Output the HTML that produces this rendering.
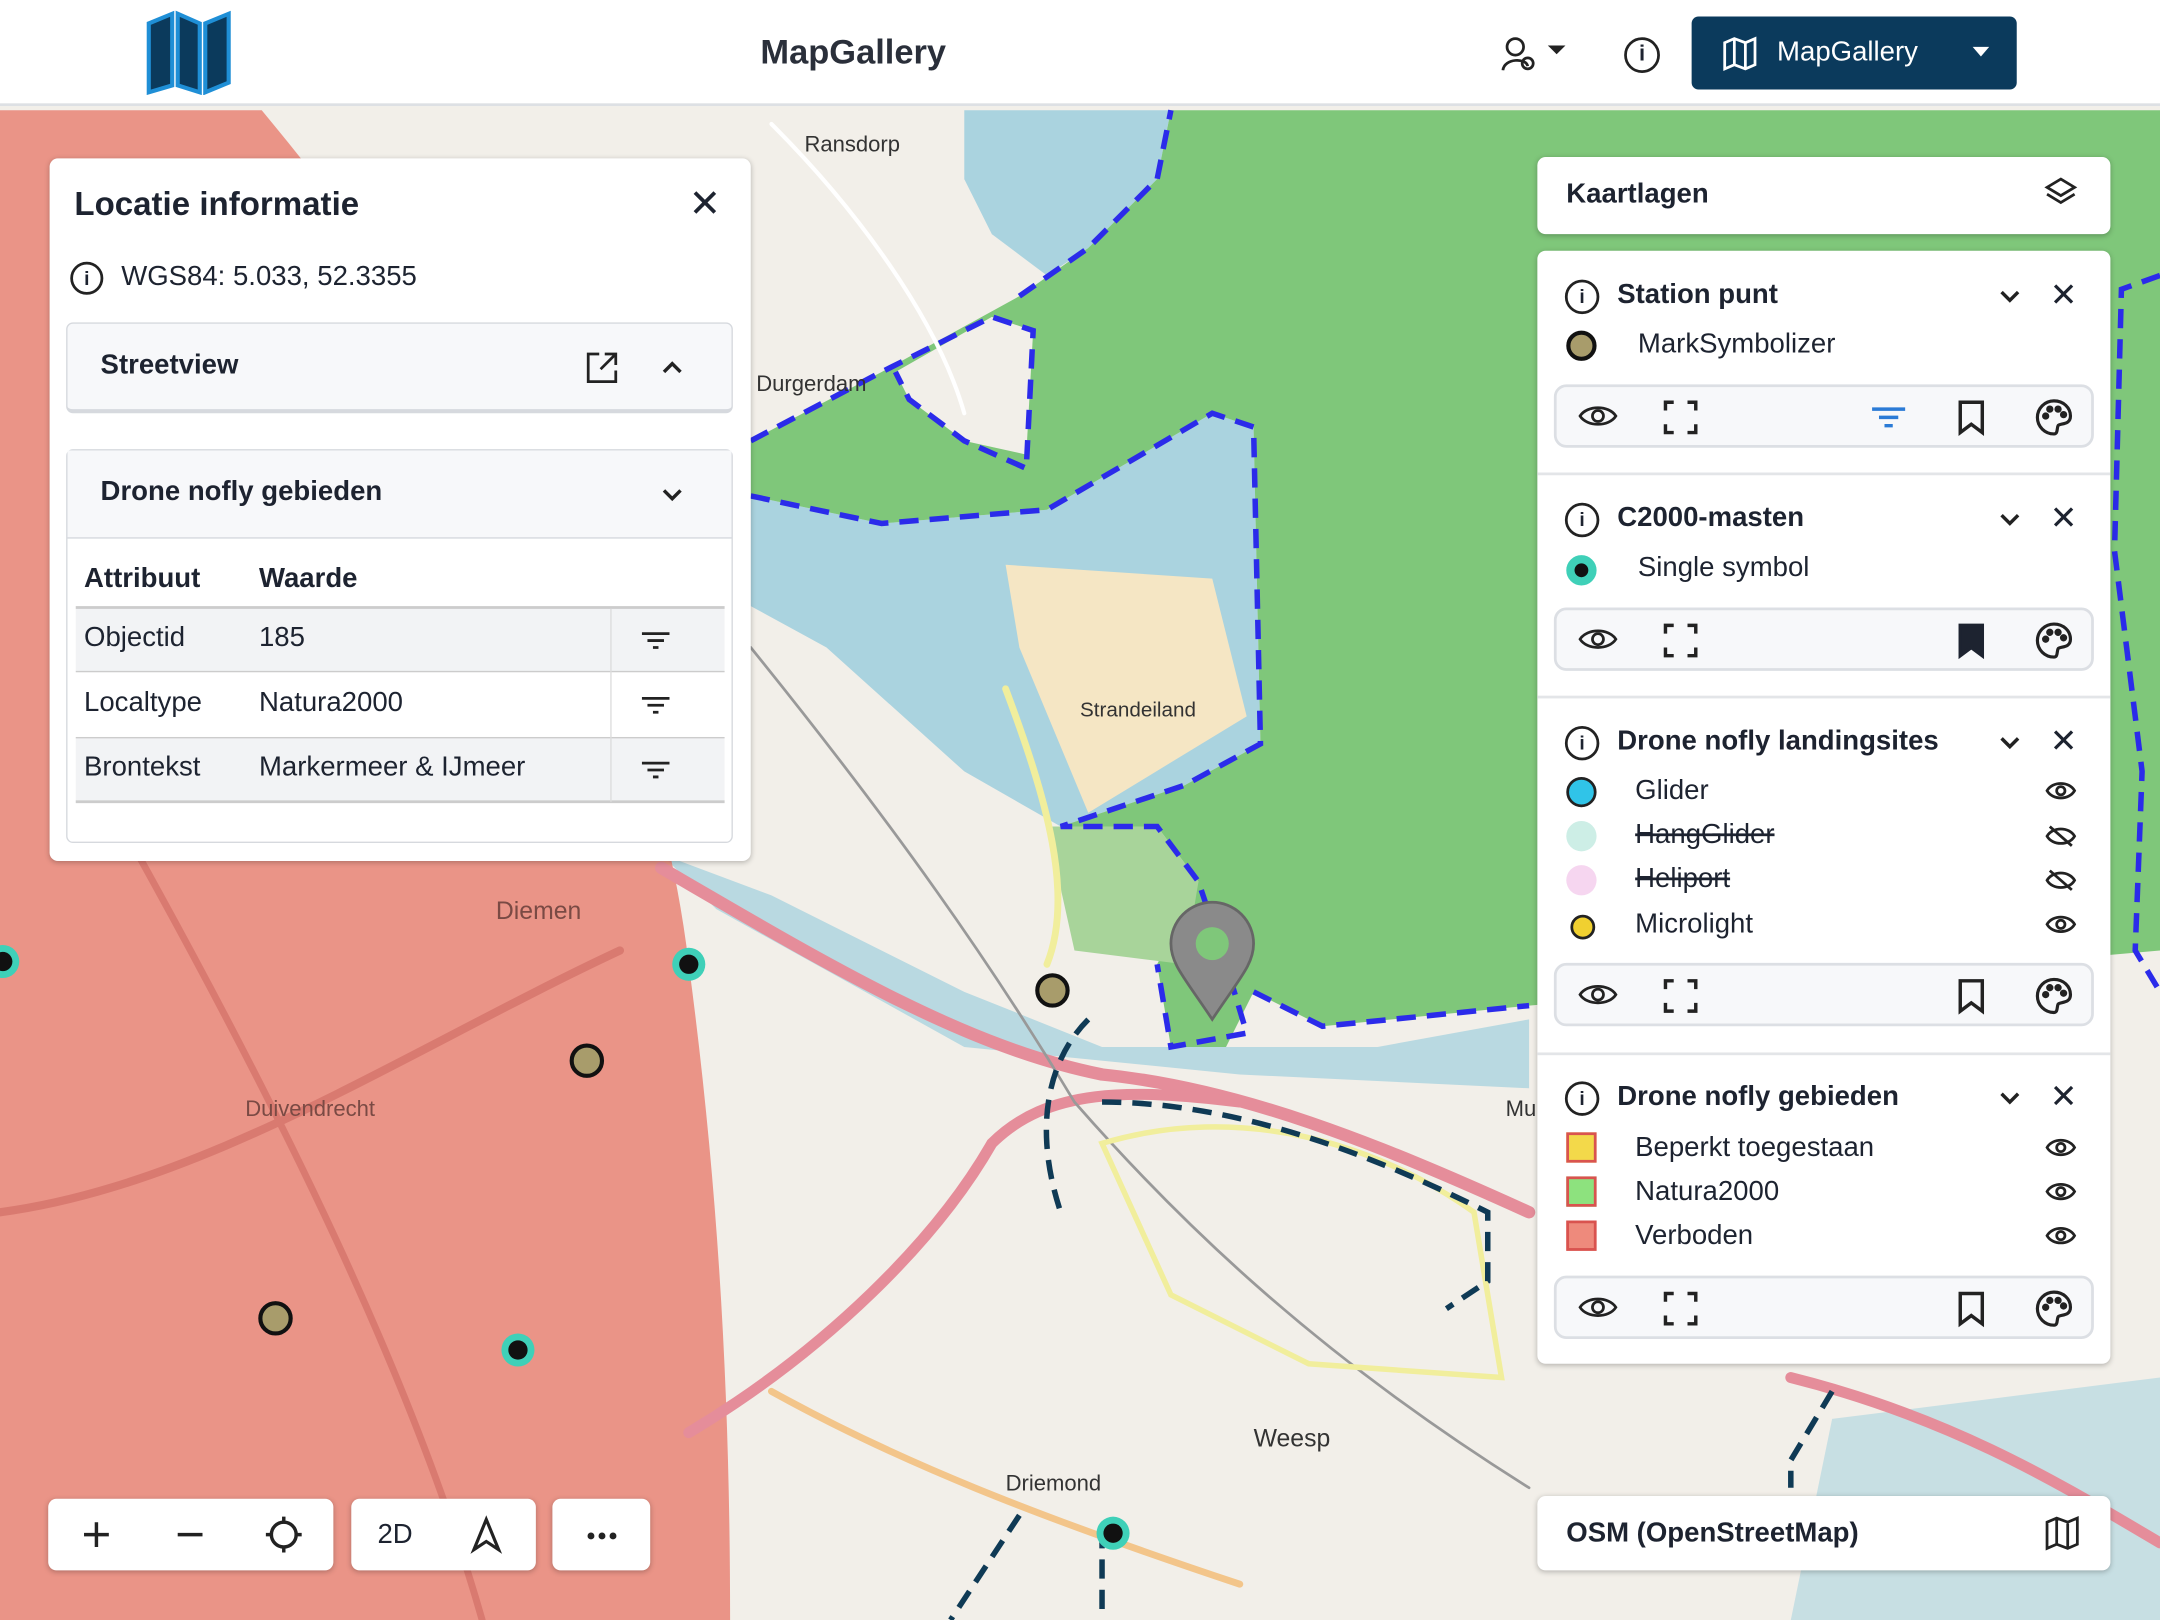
<!DOCTYPE html>
<html><head><meta charset="utf-8"><style>
*{box-sizing:border-box;margin:0;padding:0}
body{width:2160px;height:1620px;overflow:hidden;background:#f2efe9;font-family:"Liberation Sans",sans-serif;color:#1d2330}
#s{position:absolute;left:0;top:0;width:1568px;height:1176px;transform:scale(1.377551);transform-origin:0 0;overflow:hidden}
.abs{position:absolute}
.panel{position:absolute;background:#fff;border-radius:6px;box-shadow:0 1px 4px rgba(0,0,0,.25)}
.t{position:absolute;white-space:nowrap}
.b{font-weight:bold}
.bar{position:absolute;left:12px;right:12px;height:46px;background:#f7f8fa;border:2px solid #dcdfe4;border-radius:9px}
.sw{position:absolute;width:22px;height:22px;border-radius:50%}
.sq{position:absolute;width:22px;height:22px;border:2px solid #d9534f}
svg.i{position:absolute;overflow:visible}
.inf{position:absolute;width:25px;height:25px;border:2px solid #222;border-radius:50%;text-align:center;font-size:14px;line-height:21px;font-weight:bold}
</style></head><body><div id="s">
<svg class="abs" style="left:0;top:0" width="1568" height="1176" viewBox="0 0 1568 1176">
<rect width="1568" height="1176" fill="#f2efe9"/>
<path d="M700 80 L850 80 L840 130 L790 180 L760 200 L720 170 L700 130 Z" fill="#aad3df"/>
<path d="M545 360 L640 380 L760 370 L880 300 L910 310 L915 540 L860 570 L770 600 L700 560 L600 470 L545 440 Z" fill="#aad3df"/>
<path d="M480 620 L560 650 L700 720 L800 760 L1000 760 L1110 740 L1110 790 L900 780 L700 760 L520 660 Z" fill="#aad3df" opacity=".8"/>
<path d="M1330 1030 L1568 1000 L1568 1176 L1300 1176 Z" fill="#aad3df" opacity=".6"/>
<path d="M730 410 L880 420 L905 520 L790 590 L740 470 Z" fill="#f5e6c4"/>
<path d="M545 320 L640 270 L740 215 L790 180 L840 130 L850 80 L1568 80 L1568 690 L1110 730 L960 745 L910 720 L890 760 L850 760 L840 700 L870 640 L840 600 L770 600 L860 570 L915 540 L910 310 L880 300 L760 370 L640 380 L545 360 Z" fill="#7fc77a"/>
<path d="M720 230 L750 240 L745 330 L700 320 L660 290 L650 270 Z" fill="#f2efe9"/>
<path d="M760 600 L840 600 L870 640 L860 700 L780 690 Z" fill="#a8d49a"/>
<path d="M0 80 L190 80 C330 250 470 450 500 700 C520 850 530 1000 530 1176 L0 1176 Z" fill="#e98a7c" opacity=".9"/>
<g fill="none" stroke-linecap="round">
<path d="M480 630 C600 700 700 760 800 780 C900 790 1000 830 1110 880" stroke="#e58d9a" stroke-width="9"/>
<path d="M500 1040 C600 980 680 900 720 830 C760 790 820 790 900 800" stroke="#e58d9a" stroke-width="8"/>
<path d="M1300 1000 C1420 1030 1500 1080 1568 1120" stroke="#e58d9a" stroke-width="8"/>
<path d="M545 470 C650 600 720 700 780 800 C850 880 950 980 1110 1080" stroke="#999" stroke-width="2"/>
<path d="M560 1010 C650 1060 750 1100 900 1150" stroke="#f3c58a" stroke-width="5"/>
<path d="M0 880 C150 860 300 760 450 690" stroke="#d97a70" stroke-width="6"/>
<path d="M100 620 C200 800 300 1000 350 1176" stroke="#d97a70" stroke-width="5"/>
<path d="M730 500 C760 580 780 650 760 700" stroke="#f1ee9c" stroke-width="5"/>
<path d="M800 830 C900 800 1000 830 1070 880 L1090 1000 L950 990 L850 940 Z" stroke="#f1ee9c" stroke-width="4"/>
<path d="M560 90 C620 150 680 230 700 300" stroke="#fff" stroke-width="3"/>
</g>
<g fill="none" stroke="#2b2bea" stroke-width="4" stroke-dasharray="14 8">
<path d="M545 320 L640 270 L720 230 L750 240 L745 340 L700 320 L660 290 L650 270 M740 215 L790 180 L840 130 L850 80"/>
<path d="M545 360 L640 380 L760 370 L880 300 L910 310 L915 540 L860 570 L770 600 L840 600 L870 640 L890 700 L905 750 L850 760 L840 700 M910 720 L960 745 L1110 730"/>
<path d="M1568 200 L1540 210 L1535 400 L1555 560 L1550 690 L1568 720"/>
</g>
<g fill="none" stroke="#0f3a55" stroke-width="4" stroke-dasharray="14 8">
<path d="M790 740 C760 770 750 820 770 880 M800 800 C900 800 1000 840 1080 880 L1080 930 L1050 950 M1330 1010 L1300 1060 L1300 1080 M740 1100 L690 1176 M800 1110 L800 1176"/>
</g>
<g stroke="#111" stroke-width="3">
<circle cx="764" cy="719" r="11" fill="#a89c6b"/><circle cx="426" cy="770" r="11" fill="#a89c6b"/><circle cx="200" cy="957" r="11" fill="#a89c6b"/>
</g>
<g><circle cx="500" cy="700" r="12" fill="#3fd0b8"/><circle cx="500" cy="700" r="7" fill="#111"/>
<circle cx="376" cy="980" r="12" fill="#3fd0b8"/><circle cx="376" cy="980" r="7" fill="#111"/>
<circle cx="808" cy="1113" r="12" fill="#3fd0b8"/><circle cx="808" cy="1113" r="7" fill="#111"/>
<circle cx="2" cy="698" r="12" fill="#3fd0b8"/><circle cx="2" cy="698" r="7" fill="#111"/></g>
<path d="M880 740 C860 710 850 700 850 685 A30 30 0 1 1 910 685 C910 700 900 710 880 740 Z" fill="#8a8a8a" stroke="#666" stroke-width="2"/>
<circle cx="880" cy="685" r="12" fill="#7fc77a"/>
<g font-family="Liberation Sans,sans-serif" font-size="16" fill="#333">
<text x="584" y="110">Ransdorp</text><text x="549" y="284">Durgerdam</text><text x="784" y="520" font-size="15">Strandeiland</text>
<text x="360" y="667" font-size="18" fill="#7a4a44">Diemen</text><text x="178" y="810" fill="#7a4a44">Duivendrecht</text>
<text x="910" y="1050" font-size="18">Weesp</text><text x="730" y="1082">Driemond</text><text x="1093" y="810">Mu</text></g>
</svg>
<div class="abs" style="left:0;top:0;width:1568px;height:77px;background:#fff;border-bottom:2px solid #dde0e4"></div>
<svg class="abs" style="left:105px;top:7px" width="64" height="62" viewBox="0 0 64 62"><path d="M3 10 L20 3 L20 55 L3 60 Z M24 3 L40 10 L40 60 L24 55 Z M44 10 L61 3 L61 53 L44 60 Z" fill="#0b3a5c" stroke="#1f8fd6" stroke-width="3"/></svg>
<div class="t b" style="left:552px;top:24px;font-size:25px;color:#2a2f3a">MapGallery</div>
<svg class="i" style="left:1090px;top:26px" width="48" height="28" fill="none" stroke="#222" stroke-width="2"><circle cx="10" cy="8" r="6"/><path d="M1 25 C2 16 18 16 19 22"/><circle cx="19" cy="20" r="4"/><path d="M36 8 L40 12 L44 8 Z" fill="#222"/></svg>
<div class="abs" style="left:1179px;top:27px;width:26px;height:26px;border:2px solid #222;border-radius:50%;text-align:center;font-size:16px;line-height:22px;font-weight:bold">i</div>
<div class="abs" style="left:1228px;top:12px;width:236px;height:53px;background:#0b3a5c;border-radius:5px;color:#fff">
<svg class="i" style="left:22px;top:14px" width="26" height="26" fill="none" stroke="#fff" stroke-width="2"><path d="M2 5 L9 2 L17 5 L24 2 L24 21 L17 24 L9 21 L2 24 Z M9 2 V21 M17 5 V24"/></svg>
<div class="t" style="left:62px;top:15px;font-size:20px">MapGallery</div><svg class="i" style="left:204px;top:22px" width="12" height="8"><path d="M0 0 L12 0 L6 7Z" fill="#fff"/></svg></div>
<div class="panel" style="left:36px;top:115px;width:509px;height:510px">
<div class="t b" style="left:18px;top:20px;font-size:24px">Locatie informatie</div>
<div class="t" style="left:464px;top:16px;font-size:28px">✕</div>
<div class="abs" style="left:15px;top:75px;width:24px;height:24px;border:2px solid #222;border-radius:50%;text-align:center;font-size:14px;line-height:20px;font-weight:bold">i</div>
<div class="t" style="left:52px;top:75px;font-size:20px">WGS84: 5.033, 52.3355</div>
<div class="abs" style="left:12px;top:119px;width:484px;height:66px;border:1px solid #d6d9de;border-radius:5px;background:#f7f8fa;border-bottom:3px solid #d6d9de">
<div class="t b" style="left:24px;top:19px;font-size:20px">Streetview</div>
<svg class="i" style="left:376px;top:20px" width="24" height="24" fill="none" stroke="#222" stroke-width="2"><path d="M10 2 H2 V22 H22 V14 M14 2 H22 V10 M22 2 L11 13"/></svg>
<svg class="i" style="left:432px;top:27px" width="14" height="9" fill="none" stroke="#222" stroke-width="2.5"><path d="M1 8 L7 2 L13 8"/></svg></div>
<div class="abs" style="left:12px;top:211px;width:484px;height:286px;border:1px solid #d6d9de;border-radius:5px">
<div class="abs" style="left:0;top:0;width:482px;height:64px;background:#f7f8fa;border-bottom:1px solid #d6d9de"></div>
<div class="t b" style="left:24px;top:19px;font-size:20px">Drone nofly gebieden</div>
<svg class="i" style="left:432px;top:28px" width="14" height="9" fill="none" stroke="#222" stroke-width="2.5"><path d="M1 1 L7 7 L13 1"/></svg>
<div class="t b" style="left:12px;top:82px;font-size:20px">Attribuut</div><div class="t b" style="left:139px;top:82px;font-size:20px">Waarde</div>
<div class="abs" style="left:6px;top:113px;width:471px;height:48px;background:#f2f3f5;border-top:2px solid #ccc;border-bottom:1px solid #ccc"></div>
<div class="abs" style="left:6px;top:208px;width:471px;height:48px;background:#f2f3f5;border-top:1px solid #ccc;border-bottom:2px solid #ccc"></div>
<div class="abs" style="left:394px;top:115px;width:1px;height:140px;background:#ddd"></div>
<div class="t" style="left:12px;top:125px;font-size:20px">Objectid</div><div class="t" style="left:139px;top:125px;font-size:20px">185</div>
<div class="t" style="left:12px;top:172px;font-size:20px">Localtype</div><div class="t" style="left:139px;top:172px;font-size:20px">Natura2000</div>
<div class="t" style="left:12px;top:219px;font-size:20px">Brontekst</div><div class="t" style="left:139px;top:219px;font-size:20px">Markermeer &amp; IJmeer</div>
<svg class="i" style="left:417px;top:131px" width="20" height="14" stroke="#222" stroke-width="2"><path d="M0 2H20M4 7H16M8 12H12"/></svg>
<svg class="i" style="left:417px;top:178px" width="20" height="14" stroke="#222" stroke-width="2"><path d="M0 2H20M4 7H16M8 12H12"/></svg>
<svg class="i" style="left:417px;top:225px" width="20" height="14" stroke="#222" stroke-width="2"><path d="M0 2H20M4 7H16M8 12H12"/></svg>
</div></div>
<div class="panel" style="left:1116px;top:114px;width:416px;height:56px"><div class="t b" style="left:21px;top:16px;font-size:20px">Kaartlagen</div>
<svg class="i" style="left:368px;top:14px" width="24" height="26" fill="none" stroke="#222" stroke-width="2"><path d="M12 2 L22 8 L12 14 L2 8 Z M2 13 L12 19 L22 13"/></svg></div>
<div class="panel" style="left:1116px;top:182px;width:416px;height:808px">

<div class="inf" style="left:20px;top:21px">i</div>
<div class="t b" style="left:58px;top:21px;font-size:20px">Station punt</div>
<svg class="i" style="left:336px;top:29px" width="14" height="9" fill="none" stroke="#222" stroke-width="2.5"><path d="M1 1 L7 7 L13 1"/></svg><div class="t" style="left:372px;top:18px;font-size:24px">✕</div>
<div class="sw" style="left:21px;top:58px;background:#a89c6b;border:3px solid #111"></div><div class="t" style="left:73px;top:57px;font-size:20px">MarkSymbolizer</div>
<div class="bar" style="top:97px">
<svg class="i" style="left:16px;top:12px" width="28" height="18" fill="none" stroke="#222" stroke-width="2"><path d="M1 9 C6 1 22 1 27 9 C22 17 6 17 1 9Z"/><circle cx="14" cy="9" r="4"/></svg>
<svg class="i" style="left:78px;top:10px" width="24" height="24" fill="none" stroke="#222" stroke-width="2.5"><path d="M1 7V1H7M17 1H23V7M23 17V23H17M7 23H1V17"/></svg>
<svg class="i" style="left:229px;top:14px" width="24" height="16" stroke="#2b7bd6" stroke-width="2.5"><path d="M0 2H24M5 8H19M9 14H15"/></svg>
<svg class="i" style="left:292px;top:10px" width="18" height="24" fill="none" stroke="#222" stroke-width="2.5"><path d="M1 1H17V23L9 17L1 23Z"/></svg>
<svg class="i" style="left:348px;top:9px" width="26" height="26" fill="none" stroke="#222" stroke-width="2.3"><path d="M13 1 A12 12 0 1 0 13 25 C16 25 15 21 16 19 C17 17 25 19 25 12 C25 6 20 1 13 1Z"/><circle cx="7" cy="12" r="1.5" fill="#222"/><circle cx="10" cy="7" r="1.5" fill="#222"/><circle cx="16" cy="7" r="1.5" fill="#222"/><circle cx="20" cy="11" r="1.5" fill="#222"/></svg>
</div>
<div class="abs" style="left:0;top:161px;width:416px;height:2px;background:#e3e5e8"></div>

<div class="inf" style="left:20px;top:183px">i</div>
<div class="t b" style="left:58px;top:183px;font-size:20px">C2000-masten</div>
<svg class="i" style="left:336px;top:191px" width="14" height="9" fill="none" stroke="#222" stroke-width="2.5"><path d="M1 1 L7 7 L13 1"/></svg><div class="t" style="left:372px;top:180px;font-size:24px">✕</div>
<div class="sw" style="left:21px;top:221px;background:#111;border:6px solid #3fd0b8"></div><div class="t" style="left:73px;top:219px;font-size:20px">Single symbol</div>
<div class="bar" style="top:259px">
<svg class="i" style="left:16px;top:12px" width="28" height="18" fill="none" stroke="#222" stroke-width="2"><path d="M1 9 C6 1 22 1 27 9 C22 17 6 17 1 9Z"/><circle cx="14" cy="9" r="4"/></svg>
<svg class="i" style="left:78px;top:10px" width="24" height="24" fill="none" stroke="#222" stroke-width="2.5"><path d="M1 7V1H7M17 1H23V7M23 17V23H17M7 23H1V17"/></svg>
<svg class="i" style="left:292px;top:10px" width="18" height="24" fill="#1d2330" stroke="#1d2330" stroke-width="2.5"><path d="M1 1H17V23L9 17L1 23Z"/></svg>
<svg class="i" style="left:348px;top:9px" width="26" height="26" fill="none" stroke="#222" stroke-width="2.3"><path d="M13 1 A12 12 0 1 0 13 25 C16 25 15 21 16 19 C17 17 25 19 25 12 C25 6 20 1 13 1Z"/><circle cx="7" cy="12" r="1.5" fill="#222"/><circle cx="10" cy="7" r="1.5" fill="#222"/><circle cx="16" cy="7" r="1.5" fill="#222"/><circle cx="20" cy="11" r="1.5" fill="#222"/></svg>
</div>
<div class="abs" style="left:0;top:323px;width:416px;height:2px;background:#e3e5e8"></div>

<div class="inf" style="left:20px;top:345px">i</div>
<div class="t b" style="left:58px;top:345px;font-size:20px">Drone nofly landingsites</div>
<svg class="i" style="left:336px;top:353px" width="14" height="9" fill="none" stroke="#222" stroke-width="2.5"><path d="M1 1 L7 7 L13 1"/></svg><div class="t" style="left:372px;top:342px;font-size:24px">✕</div>
<div class="sw" style="left:21px;top:382px;background:#30c4e8;border:2px solid #222"></div><div class="t" style="left:71px;top:381px;font-size:20px">Glider</div>
<svg class="i" style="left:369px;top:385px" width="22" height="14" fill="none" stroke="#222" stroke-width="2"><path d="M1 7 C5 0 17 0 21 7 C17 14 5 14 1 7Z"/><circle cx="11" cy="7" r="3"/></svg>
<div class="sw" style="left:21px;top:414px;background:#cdeee6"></div><div class="t" style="left:71px;top:413px;font-size:20px;text-decoration:line-through">HangGlider</div>
<svg class="i" style="left:369px;top:417px" width="22" height="16" fill="none" stroke="#222" stroke-width="2"><path d="M1 8 C5 1 17 1 21 8 C17 15 5 15 1 8Z M3 1 L19 15"/></svg>
<div class="sw" style="left:21px;top:446px;background:#f6d6f0"></div><div class="t" style="left:71px;top:445px;font-size:20px;text-decoration:line-through">Heliport</div>
<svg class="i" style="left:369px;top:449px" width="22" height="16" fill="none" stroke="#222" stroke-width="2"><path d="M1 8 C5 1 17 1 21 8 C17 15 5 15 1 8Z M3 1 L19 15"/></svg>
<div class="sw" style="left:24px;top:482px;width:18px;height:18px;background:#f0d030;border:2px solid #222"></div><div class="t" style="left:71px;top:478px;font-size:20px">Microlight</div>
<svg class="i" style="left:369px;top:482px" width="22" height="14" fill="none" stroke="#222" stroke-width="2"><path d="M1 7 C5 0 17 0 21 7 C17 14 5 14 1 7Z"/><circle cx="11" cy="7" r="3"/></svg>
<div class="bar" style="top:517px">
<svg class="i" style="left:16px;top:12px" width="28" height="18" fill="none" stroke="#222" stroke-width="2"><path d="M1 9 C6 1 22 1 27 9 C22 17 6 17 1 9Z"/><circle cx="14" cy="9" r="4"/></svg>
<svg class="i" style="left:78px;top:10px" width="24" height="24" fill="none" stroke="#222" stroke-width="2.5"><path d="M1 7V1H7M17 1H23V7M23 17V23H17M7 23H1V17"/></svg>
<svg class="i" style="left:292px;top:10px" width="18" height="24" fill="none" stroke="#222" stroke-width="2.5"><path d="M1 1H17V23L9 17L1 23Z"/></svg>
<svg class="i" style="left:348px;top:9px" width="26" height="26" fill="none" stroke="#222" stroke-width="2.3"><path d="M13 1 A12 12 0 1 0 13 25 C16 25 15 21 16 19 C17 17 25 19 25 12 C25 6 20 1 13 1Z"/><circle cx="7" cy="12" r="1.5" fill="#222"/><circle cx="10" cy="7" r="1.5" fill="#222"/><circle cx="16" cy="7" r="1.5" fill="#222"/><circle cx="20" cy="11" r="1.5" fill="#222"/></svg>
</div>
<div class="abs" style="left:0;top:582px;width:416px;height:2px;background:#e3e5e8"></div>

<div class="inf" style="left:20px;top:603px">i</div>
<div class="t b" style="left:58px;top:603px;font-size:20px">Drone nofly gebieden</div>
<svg class="i" style="left:336px;top:611px" width="14" height="9" fill="none" stroke="#222" stroke-width="2.5"><path d="M1 1 L7 7 L13 1"/></svg><div class="t" style="left:372px;top:600px;font-size:24px">✕</div>
<div class="sq" style="left:21px;top:640px;background:#f3d94a"></div><div class="t" style="left:71px;top:640px;font-size:20px">Beperkt toegestaan</div>
<div class="sq" style="left:21px;top:672px;background:#8de27e"></div><div class="t" style="left:71px;top:672px;font-size:20px">Natura2000</div>
<div class="sq" style="left:21px;top:704px;background:#ee8a7c"></div><div class="t" style="left:71px;top:704px;font-size:20px">Verboden</div>
<svg class="i" style="left:369px;top:644px" width="22" height="14" fill="none" stroke="#222" stroke-width="2"><path d="M1 7 C5 0 17 0 21 7 C17 14 5 14 1 7Z"/><circle cx="11" cy="7" r="3"/></svg>
<svg class="i" style="left:369px;top:676px" width="22" height="14" fill="none" stroke="#222" stroke-width="2"><path d="M1 7 C5 0 17 0 21 7 C17 14 5 14 1 7Z"/><circle cx="11" cy="7" r="3"/></svg>
<svg class="i" style="left:369px;top:708px" width="22" height="14" fill="none" stroke="#222" stroke-width="2"><path d="M1 7 C5 0 17 0 21 7 C17 14 5 14 1 7Z"/><circle cx="11" cy="7" r="3"/></svg>
<div class="bar" style="top:744px">
<svg class="i" style="left:16px;top:12px" width="28" height="18" fill="none" stroke="#222" stroke-width="2"><path d="M1 9 C6 1 22 1 27 9 C22 17 6 17 1 9Z"/><circle cx="14" cy="9" r="4"/></svg>
<svg class="i" style="left:78px;top:10px" width="24" height="24" fill="none" stroke="#222" stroke-width="2.5"><path d="M1 7V1H7M17 1H23V7M23 17V23H17M7 23H1V17"/></svg>
<svg class="i" style="left:292px;top:10px" width="18" height="24" fill="none" stroke="#222" stroke-width="2.5"><path d="M1 1H17V23L9 17L1 23Z"/></svg>
<svg class="i" style="left:348px;top:9px" width="26" height="26" fill="none" stroke="#222" stroke-width="2.3"><path d="M13 1 A12 12 0 1 0 13 25 C16 25 15 21 16 19 C17 17 25 19 25 12 C25 6 20 1 13 1Z"/><circle cx="7" cy="12" r="1.5" fill="#222"/><circle cx="10" cy="7" r="1.5" fill="#222"/><circle cx="16" cy="7" r="1.5" fill="#222"/><circle cx="20" cy="11" r="1.5" fill="#222"/></svg>
</div>
</div>
<div class="panel" style="left:1116px;top:1086px;width:416px;height:54px"><div class="t b" style="left:21px;top:16px;font-size:20px">OSM (OpenStreetMap)</div>
<svg class="i" style="left:368px;top:14px" width="26" height="26" fill="none" stroke="#222" stroke-width="2"><path d="M2 5 L9 2 L17 5 L24 2 L24 21 L17 24 L9 21 L2 24 Z M9 2 V21 M17 5 V24"/></svg></div>
<div class="panel" style="left:35px;top:1088px;width:207px;height:52px">
<svg class="i" style="left:26px;top:17px" width="18" height="18" stroke="#222" stroke-width="2.5"><path d="M9 0V18M0 9H18"/></svg>
<svg class="i" style="left:94px;top:17px" width="18" height="18" stroke="#222" stroke-width="2.5"><path d="M0 9H18"/></svg>
<svg class="i" style="left:158px;top:13px" width="26" height="26" fill="none" stroke="#222" stroke-width="2.5"><circle cx="13" cy="13" r="9"/><path d="M13 0V5M13 21V26M0 13H5M21 13H26"/></svg></div>
<div class="panel" style="left:255px;top:1088px;width:134px;height:52px"><div class="t" style="left:19px;top:15px;font-size:20px">2D</div>
<svg class="i" style="left:88px;top:14px" width="20" height="24" fill="none" stroke="#222" stroke-width="2.3"><path d="M10 1 L19 23 L10 17 L1 23 Z"/></svg></div>
<div class="panel" style="left:401px;top:1088px;width:71px;height:52px"><svg class="i" style="left:25px;top:24px" width="22" height="6" fill="#222"><circle cx="3" cy="3" r="2.5"/><circle cx="11" cy="3" r="2.5"/><circle cx="19" cy="3" r="2.5"/></svg></div>
</div></body></html>
